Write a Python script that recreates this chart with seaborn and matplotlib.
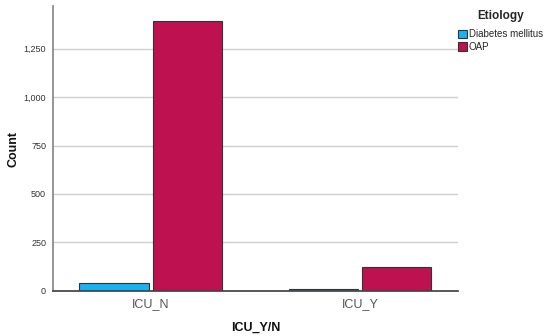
import pandas as pd
import seaborn as sns
import matplotlib.pyplot as plt
from matplotlib.ticker import FuncFormatter

sns.set_theme(style="white")
plt.rcParams['font.family'] = ['Liberation Sans', 'DejaVu Sans']

categories = ["ICU_N", "ICU_Y"]
etiologies = ["Diabetes mellitus", "OAP"]
diabetes_counts = [40, 10]
oap_counts = [1392, 122]
colors = ["#18B2F2", "#BE1250"]

df = pd.DataFrame({
    "ICU_Y/N": categories * 2,
    "Etiology": [etiologies[0]] * 2 + [etiologies[1]] * 2,
    "Count": diabetes_counts + oap_counts,
})

fig = plt.figure(figsize=(5.5, 3.36), dpi=100)
ax = fig.add_axes([0.0964, 0.134, 0.7363, 0.848])

sns.barplot(data=df, x="ICU_Y/N", y="Count", hue="Etiology", palette=colors,
            saturation=1, width=0.7, gap=0.05, edgecolor="#333333",
            linewidth=0.8, ax=ax, legend=True)

ax.set_xlim(-0.4675, 1.468)
ax.set_ylim(0, 1469)
ax.set_yticks([0, 250, 500, 750, 1000, 1250])
ax.yaxis.set_major_formatter(FuncFormatter(lambda v, p: f"{int(v):,}"))
ax.yaxis.grid(True, color="#D0D0D0", linewidth=1)
ax.set_axisbelow(True)
ax.tick_params(axis="y", labelsize=6.5, colors="#333333", length=0, pad=5)
ax.tick_params(axis="x", labelsize=9, colors="#555555", length=0, pad=5)

for s in ["top", "right"]:
    ax.spines[s].set_visible(False)
ax.spines["left"].set_color("#888888")
ax.spines["bottom"].set_color("#444444")

ax.set_xlabel("ICU_Y/N", fontsize=9, fontweight="bold", color="#111111")
ax.set_ylabel("Count", fontsize=9, fontweight="bold", color="#111111")
ax.xaxis.set_label_coords(0.5, -0.108)
ax.yaxis.set_label_coords(-0.084, 0.5)

leg = ax.legend(title="Etiology", loc="upper left", bbox_to_anchor=(1.0, 0.985),
                frameon=False, fontsize=7, title_fontsize=8.5,
                handlelength=0.95, handleheight=0.95, handletextpad=0.15,
                labelspacing=0.25, borderaxespad=0, borderpad=0)
leg.get_title().set_fontweight("bold")
leg._legend_box.sep = 5

fig.savefig("out.png", dpi=100)
